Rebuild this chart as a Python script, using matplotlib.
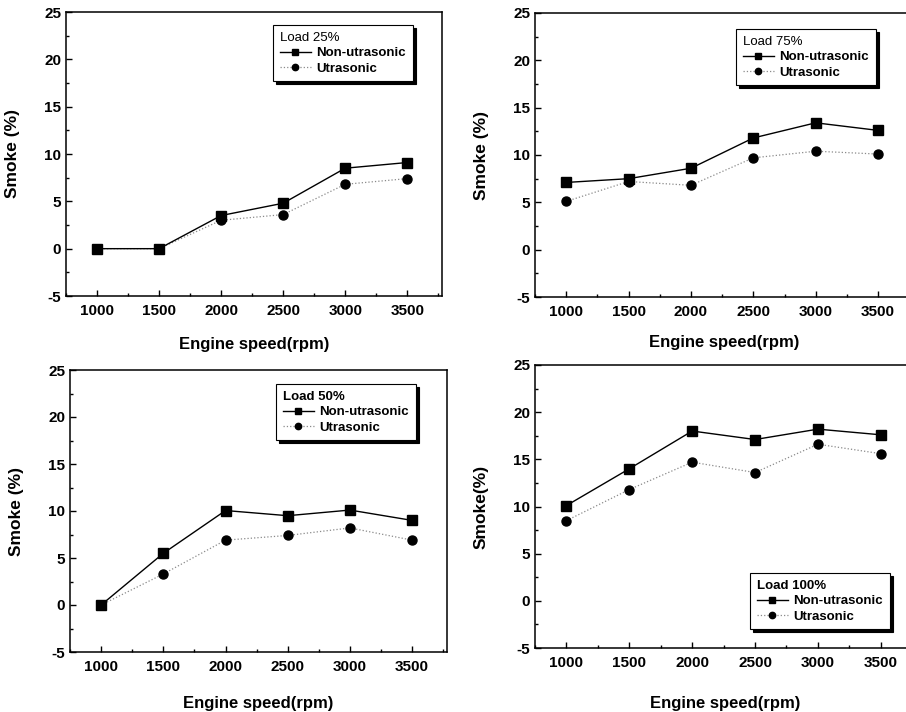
import matplotlib
matplotlib.use("Agg")
import matplotlib.pyplot as plt
from matplotlib.ticker import MultipleLocator

plt.rcParams['font.family'] = ['Liberation Sans', 'DejaVu Sans']
plt.rcParams['font.weight'] = 'bold'
plt.rcParams['axes.unicode_minus'] = False

# ------------------------------------------------------------------
# data
# ------------------------------------------------------------------
speed = [1000, 1500, 2000, 2500, 3000, 3500]

load25_non = [0.0, 0.0, 3.5, 4.8, 8.5, 9.1]
load25_ult = [0.0, 0.0, 3.0, 3.6, 6.8, 7.4]

load75_non = [7.1, 7.5, 8.6, 11.8, 13.4, 12.6]
load75_ult = [5.1, 7.2, 6.8, 9.7, 10.4, 10.1]

load50_non = [0.0, 5.5, 10.05, 9.5, 10.1, 9.0]
load50_ult = [0.0, 3.3, 6.9, 7.4, 8.2, 6.9]

load100_non = [10.1, 14.0, 18.0, 17.1, 18.2, 17.6]
load100_ult = [8.5, 11.8, 14.7, 13.6, 16.6, 15.6]

W, H = 906, 712
fig = plt.figure(figsize=(W / 100, H / 100), dpi=100)


def px_axes(left, right, top, bottom):
    return fig.add_axes([left / W, (H - bottom) / H, (right - left) / W, (bottom - top) / H])


panels = [
    # (axes box px), non, ult, title, title bold, ylabel, legend anchor px, xlabel offset
    ((66, 442, 12, 296), load25_non, load25_ult, 'Load 25%', False, 'Smoke (%)', (273, 25), 41),
    ((535, 913, 13, 297), load75_non, load75_ult, 'Load 75%', False, 'Smoke (%)', (736, 29), 38),
    ((70, 447, 370, 652), load50_non, load50_ult, 'Load 50%', True, 'Smoke (%)', (276, 384), 44),
    ((535, 916, 365, 648), load100_non, load100_ult, 'Load 100%', True, 'Smoke(%)', (750, 573), 48),
]

for box, non, ult, title, tbold, ylab, leg_xy, xl_off in panels:
    left, right, top, bottom = box
    ax = px_axes(left, right, top, bottom)

    ax.plot(speed, non, color='black', lw=1.0, marker='s', ms=6.5,
            mfc='black', mec='black', label='Non-utrasonic', zorder=3)
    ax.plot(speed, ult, color='#8a8a8a', lw=0.9, ls=':', marker='o', ms=6.5,
            mfc='black', mec='black', label='Utrasonic', zorder=2)

    ax.set_xlim(750, 3780)
    ax.set_ylim(-5, 25)
    ax.xaxis.set_major_locator(MultipleLocator(500))
    ax.xaxis.set_minor_locator(MultipleLocator(250))
    ax.yaxis.set_major_locator(MultipleLocator(5))
    ax.yaxis.set_minor_locator(MultipleLocator(2.5))
    ax.tick_params(which='both', direction='in', labelsize=11, width=1)
    ax.tick_params(which='major', length=4)
    ax.tick_params(which='minor', length=2.5)
    ax.tick_params(axis='x', which='major', pad=6)
    for lbl in ax.get_xticklabels() + ax.get_yticklabels():
        lbl.set_fontweight('bold')
    for sp in ax.spines.values():
        sp.set_linewidth(1.1)

    ax.set_xlabel('Engine speed(rpm)', fontsize=12, fontweight='bold')
    ax.xaxis.set_label_coords(0.5, -xl_off / (bottom - top))
    ax.set_ylabel(ylab, fontsize=12.5, fontweight='bold')
    ax.yaxis.set_label_coords(-46 / (right - left), 0.5)

    leg = ax.legend(loc='upper left',
                    bbox_to_anchor=(leg_xy[0] / W, (H - leg_xy[1]) / H),
                    bbox_transform=fig.transFigure,
                    title=title, alignment='left', fontsize=9.5,
                    title_fontproperties={'size': 9.5, 'weight': 'bold' if tbold else 'normal'},
                    frameon=True, fancybox=False, edgecolor='black',
                    shadow={'color': 'black', 'alpha': 1.0},
                    markerscale=0.7,
                    handlelength=2.4, handletextpad=0.4, borderpad=0.5,
                    labelspacing=0.25, borderaxespad=0)
    leg.get_frame().set_linewidth(0.8)
    for t in leg.get_texts():
        t.set_fontweight('bold')

fig.savefig('out.png', dpi=100)
